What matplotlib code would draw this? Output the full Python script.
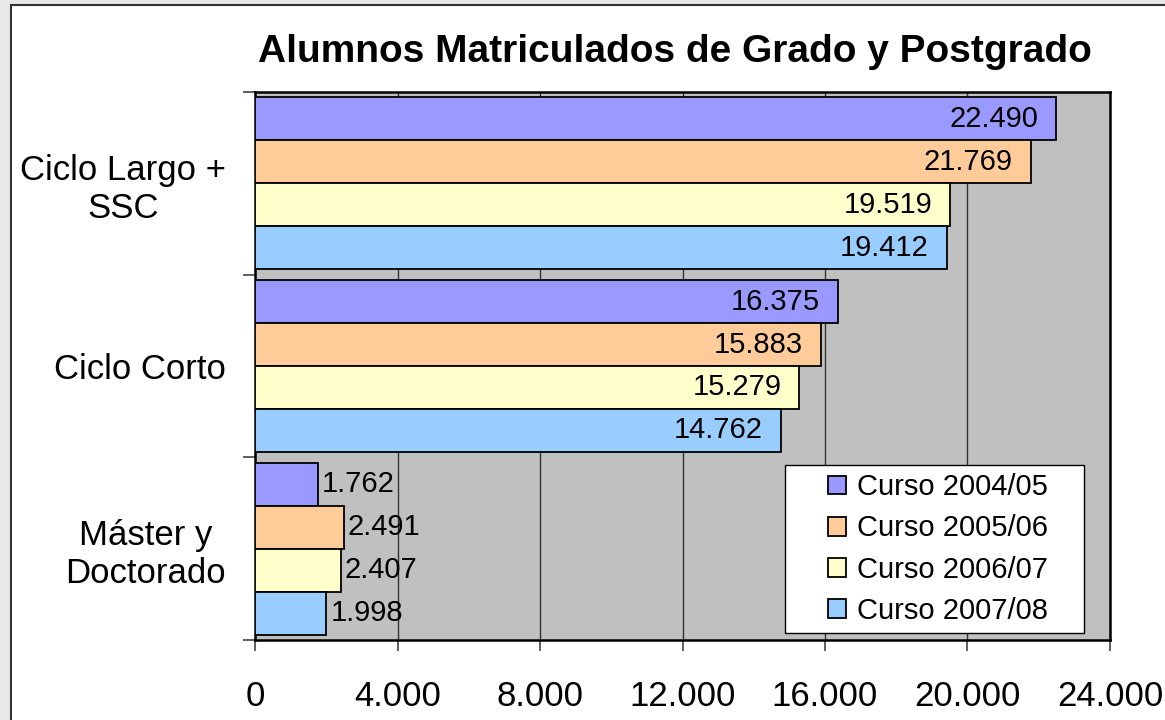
import matplotlib
matplotlib.use("Agg")
import matplotlib.pyplot as plt
from matplotlib.patches import Rectangle
import numpy as np

plt.rcParams['font.family'] = ['Liberation Sans', 'DejaVu Sans']

categories = ["Ciclo Largo +\nSSC", "Ciclo Corto", "Máster y\nDoctorado"]
series_names = ["Curso 2004/05", "Curso 2005/06", "Curso 2006/07", "Curso 2007/08"]
curso_0405 = [22490, 16375, 1762]
curso_0506 = [21769, 15883, 2491]
curso_0607 = [19519, 15279, 2407]
curso_0708 = [19412, 14762, 1998]
colors = ["#9999FF", "#FFCC99", "#FFFFCC", "#99CCFF"]
xticks = [0, 4000, 8000, 12000, 16000, 20000, 24000]

def fmt(v):
    return "{:,}".format(v).replace(",", ".")

fig = plt.figure(figsize=(11.65, 7.2), dpi=100)
fig.patch.set_facecolor("#E8E8E8")
# white chart area with dark border
fig.patches.append(Rectangle((11 / 1165, -0.01), 1.0, 1 - 5 / 720 + 0.01,
                             transform=fig.transFigure, facecolor="white",
                             edgecolor="#333333", linewidth=1.5, zorder=-5))

ax = fig.add_axes([255 / 1165, 1 - 640 / 720, (1110 - 255) / 1165, (640 - 92) / 720])
ax.set_facecolor("#C0C0C0")

data = [curso_0405, curso_0506, curso_0607, curso_0708]
h = 0.235
y = np.arange(len(categories))
for i, (vals, c, name) in enumerate(zip(data, colors, series_names)):
    pos = y - 1.5 * h + i * h
    bars = ax.barh(pos, vals, height=h, color=c, edgecolor="black", linewidth=1.3,
                   label=name, zorder=3)
    for b, v in zip(bars, vals):
        yc = b.get_y() + b.get_height() / 2
        if v > 5000:
            ax.annotate(fmt(v), (v, yc), xytext=(-13, 0), textcoords="offset points",
                        ha="right", va="center", fontsize=21, zorder=4)
        else:
            ax.annotate(fmt(v), (v, yc), xytext=(3, 0), textcoords="offset points",
                        ha="left", va="center", fontsize=21, zorder=4)

ax.set_xlim(0, 24000)
ax.set_ylim(2.5, -0.5)
ax.set_xticks(xticks)
ax.set_xticklabels([fmt(t) for t in xticks], fontsize=25)
ax.tick_params(axis="x", length=8, width=1.2, color="#444444", pad=21)
ax.xaxis.grid(True, color="#333333", linewidth=1.0, zorder=1)
ax.set_axisbelow(True)

ax.set_yticks([-0.5, 0.5, 1.5, 2.5])
ax.set_yticklabels([])
ax.tick_params(axis="y", which="major", length=9, width=1.2, color="#444444")
ax.set_yticks(y, minor=True)
ax.set_yticklabels(categories, minor=True, fontsize=25, multialignment="center")
ax.tick_params(axis="y", which="minor", length=0, pad=21)

for s in ax.spines.values():
    s.set_color("black")
    s.set_linewidth(1.8)

fig.text(675 / 1165, 1 - 52 / 720, "Alumnos Matriculados de Grado y Postgrado",
         ha="center", va="center", fontsize=28, fontweight="bold")

# legend box, wider than its content like the original
fig.patches.append(Rectangle((785 / 1165, 1 - 633 / 720), 299 / 1165, 168 / 720,
                             transform=fig.transFigure, facecolor="white",
                             edgecolor="black", linewidth=1.0, zorder=8))
leg = ax.legend(loc="center", bbox_to_anchor=(938 / 1165, 1 - 549 / 720),
                bbox_transform=fig.transFigure, fontsize=21, frameon=False,
                handlelength=0.62, handleheight=0.62, handletextpad=0.35,
                labelspacing=0.45, borderpad=0, borderaxespad=0)
for p in leg.get_patches():
    p.set_linewidth(1.3)
leg.set_zorder(10)
fig.legends.append(leg)
ax.legend_ = None

fig.savefig("out.png", dpi=100)
